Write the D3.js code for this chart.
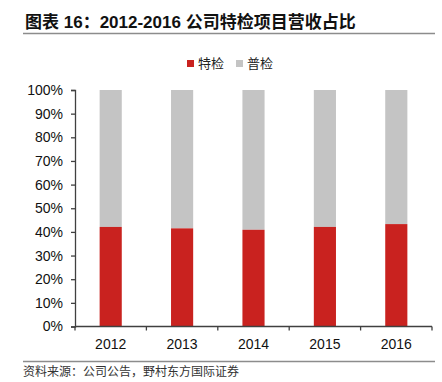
<!DOCTYPE html>
<html>
<head>
<meta charset="utf-8">
<script src="https://cdn.jsdelivr.net/npm/d3@7"></script>
<style>
  body { margin: 0; background: #fff; }
  svg { display: block; font-family: "Liberation Sans", Arial, "Noto Sans CJK SC", sans-serif; }
</style>
</head>
<body>
<svg id="chart" width="442" height="382"></svg>
<script>
// data
const years = ['2012', '2013', '2014', '2015', '2016']
const specialShare = [0.421, 0.415, 0.409, 0.421, 0.433]   // 特检
const seriesNames = ['特检', '普检']
const yTicks = [0, 0.1, 0.2, 0.3, 0.4, 0.5, 0.6, 0.7, 0.8, 0.9, 1]

const colors = { special: '#c9221f', general: '#c4c4c4', axis: '#404040', rule: '#8c8c8c' }

const svg = d3.select('#chart')
const plotLeft = 75, plotRight = 432, plotTop = 90, plotBottom = 326.5

const x = d3.scaleBand()
  .domain(years)
  .range([plotLeft, plotRight])
  .paddingInner(0.69)
  .paddingOuter(0.345)

const y = d3.scaleLinear().domain([0, 1]).range([plotBottom, plotTop])

// title + rule
svg.append('text')
  .attr('x', 25).attr('y', 28)
  .attr('font-size', 17).attr('font-weight', 'bold').attr('fill', '#111')
  .text('图表 16：2012-2016 公司特检项目营收占比')
svg.append('line')
  .attr('x1', 23).attr('x2', 435).attr('y1', 33.5).attr('y2', 33.5)
  .attr('stroke', colors.rule).attr('stroke-width', 1.5)

// legend
const legend = svg.append('g').attr('font-size', 13).attr('fill', '#222')
const legendItems = [
  { name: seriesNames[0], color: colors.special, x: 187 },
  { name: seriesNames[1], color: colors.general, x: 236 }
]
legendItems.forEach(d => {
  legend.append('rect').attr('x', d.x).attr('y', 60).attr('width', 7).attr('height', 7).attr('fill', d.color)
  legend.append('text').attr('x', d.x + 11).attr('y', 68).text(d.name)
})

// bars
const bars = svg.append('g')
bars.selectAll('rect.general')
  .data(years)
  .join('rect')
  .attr('class', 'general')
  .attr('x', d => x(d))
  .attr('width', x.bandwidth())
  .attr('y', y(1))
  .attr('height', (d, i) => y(specialShare[i]) - y(1))
  .attr('fill', colors.general)
bars.selectAll('rect.special')
  .data(years)
  .join('rect')
  .attr('class', 'special')
  .attr('x', d => x(d))
  .attr('width', x.bandwidth())
  .attr('y', (d, i) => y(specialShare[i]))
  .attr('height', (d, i) => y(0) - y(specialShare[i]))
  .attr('fill', colors.special)

// y axis
const yAxis = svg.append('g')
  .attr('transform', `translate(${plotLeft},0)`)
  .call(d3.axisLeft(y).tickValues(yTicks).tickFormat(d3.format('.0%')).tickSize(4).tickPadding(8))
yAxis.select('.domain').attr('stroke', colors.axis).attr('stroke-width', 1.3)
yAxis.selectAll('.tick line').attr('stroke', colors.axis).attr('stroke-width', 1.3)
yAxis.selectAll('text').attr('font-size', 14).attr('fill', '#111')
  .attr('font-family', '"Liberation Sans", Arial, sans-serif')

// x axis with ticks between categories
const xAxis = svg.append('g').attr('transform', `translate(0,${plotBottom})`)
xAxis.append('line')
  .attr('x1', plotLeft).attr('x2', plotRight)
  .attr('stroke', colors.axis).attr('stroke-width', 1.3)
xAxis.selectAll('line.sep')
  .data(d3.range(years.length + 1))
  .join('line')
  .attr('class', 'sep')
  .attr('x1', i => plotLeft + i * x.step()).attr('x2', i => plotLeft + i * x.step())
  .attr('y1', 0).attr('y2', 4)
  .attr('stroke', colors.axis).attr('stroke-width', 1.3)
xAxis.selectAll('text')
  .data(years)
  .join('text')
  .attr('x', d => x(d) + x.bandwidth() / 2)
  .attr('y', 22)
  .attr('text-anchor', 'middle')
  .attr('font-size', 14).attr('fill', '#111')
  .text(d => d)

// source note
svg.append('line')
  .attr('x1', 23).attr('x2', 435).attr('y1', 361.5).attr('y2', 361.5)
  .attr('stroke', colors.rule).attr('stroke-width', 1.5)
svg.append('text')
  .attr('x', 23).attr('y', 376)
  .attr('font-size', 12).attr('fill', '#333')
  .text('资料来源：公司公告，野村东方国际证券')
</script>
</body>
</html>
